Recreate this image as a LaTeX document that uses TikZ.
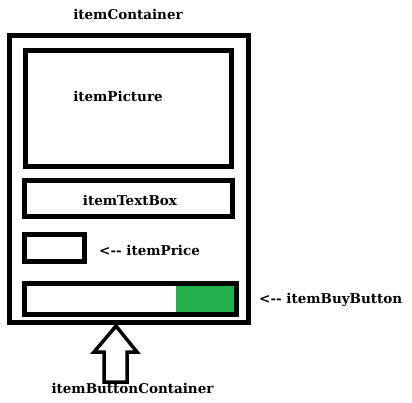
\documentclass[tikz,border=0pt]{standalone}
\usepackage{fontspec}
\setmainfont{DejaVu Serif}
\usetikzlibrary{positioning}
\definecolor{buygreen}{HTML}{22B14C}
\begin{document}
\begin{tikzpicture}[x=1pt,y=-1pt,line join=miter,
  font=\fontsize{13.5}{15}\selectfont\bfseries,
  box/.style={draw,line width=5pt,inner sep=0pt,minimum width=#1},
  lbl/.style={inner sep=0pt,anchor=base}]
\useasboundingbox (0,0) rectangle (412,403);
% boxes
\node[box=239,minimum height=287] (container) at (129,179) {};
\node[box=206,minimum height=116] (picture) at (128.5,108.5) {};
\node[box=208,minimum height=36] (textbox) at (128.5,198.5) {};
\node[box=60,minimum height=27.5] (price) at (54.5,248.25) {};
\fill[buygreen] (176,286) rectangle (234,312);
\node[box=212,minimum height=30.5] (buy) at (130.5,298.75) {};
% labels
\node[lbl] (containerlbl) at (128,20) {itemContainer};
\node[lbl] (picturelbl) at (118,102) {itemPicture};
\node[lbl] (textboxlbl) at (130,206) {itemTextBox};
\node[lbl,anchor=base west] (pricelbl) at (99,256) {<{-}{-} itemPrice};
\node[lbl,anchor=base west] (buylbl) at (259,303) {<{-}{-} itemBuyButton};
\node[lbl] (bclbl) at (132.5,393) {itemButtonContainer};
% hollow arrow
\coordinate (tip) at (116,326);
\draw[line width=3.5pt] (tip) -- (137,352) -- (127,352) -- (127,382) -- (104,382)
  -- (104,352) -- (94,352) -- cycle;
\end{tikzpicture}
\end{document}
